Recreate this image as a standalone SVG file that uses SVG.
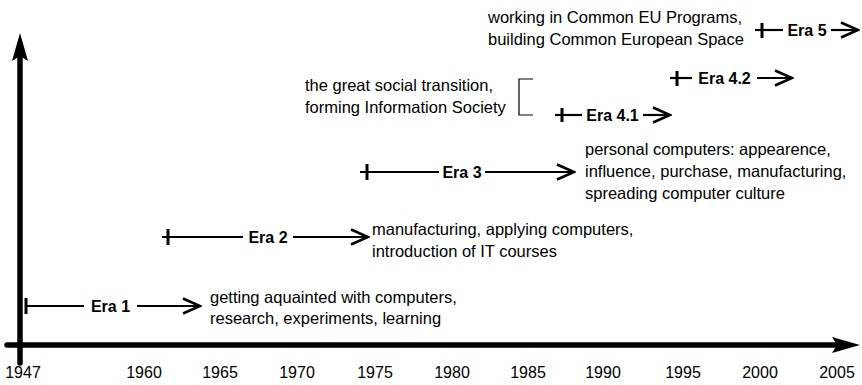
<svg xmlns="http://www.w3.org/2000/svg" width="862" height="385" viewBox="0 0 862 385">
  <style>
    text { font-family: "Liberation Sans", Arial, sans-serif; fill: #000; }
    .year { font-size: 16px; text-anchor: middle; }
    .era { font-size: 16px; font-weight: bold; text-anchor: middle; }
    .desc { font-size: 16.5px; }
    .eraline { stroke: #000; stroke-width: 2.2; fill: none; }
    .tick { stroke: #000; stroke-width: 3; }
    .axis { stroke: #000; stroke-width: 5.5; stroke-linecap: round; fill: none; }
  </style>
  <defs>
    <marker id="chev" markerUnits="userSpaceOnUse" markerWidth="22" markerHeight="20" viewBox="0 0 22 20" refX="20" refY="10" orient="auto">
      <path d="M3,2.5 L20,10 L3,17.5" fill="none" stroke="#000" stroke-width="2.6" stroke-linejoin="miter"/>
    </marker>
  </defs>
  <rect width="862" height="385" fill="#fff"/>

  <g id="axes">
    <line class="axis" x1="20" y1="58" x2="20" y2="363"/>
    <polygon points="20,33 28,61 20,56 12,61" fill="#000"/>
    <line class="axis" x1="7" y1="345" x2="836" y2="345"/>
    <polygon points="860,345 832,337 837,345 832,353" fill="#000"/>
  </g>

  <g id="years">
    <text class="year" x="23" y="378">1947</text>
    <text class="year" x="144" y="378">1960</text>
    <text class="year" x="220" y="378">1965</text>
    <text class="year" x="297" y="378">1970</text>
    <text class="year" x="375" y="378">1975</text>
    <text class="year" x="452" y="378">1980</text>
    <text class="year" x="528" y="378">1985</text>
    <text class="year" x="603" y="378">1990</text>
    <text class="year" x="683" y="378">1995</text>
    <text class="year" x="760" y="378">2000</text>
    <text class="year" x="837" y="378">2005</text>
  </g>

  <g id="connectors">
    <line class="eraline" x1="26" y1="306" x2="84" y2="306"/>
    <line class="eraline" x1="137" y1="306" x2="200" y2="306" marker-end="url(#chev)"/>
    <line class="eraline" x1="162" y1="237" x2="243" y2="237"/>
    <line class="eraline" x1="293" y1="237" x2="368" y2="237" marker-end="url(#chev)"/>
    <line class="eraline" x1="360" y1="172" x2="439" y2="172"/>
    <line class="eraline" x1="485" y1="172" x2="574" y2="172" marker-end="url(#chev)"/>
    <line class="eraline" x1="555" y1="115" x2="582" y2="115"/>
    <line class="eraline" x1="643" y1="115" x2="670" y2="115" marker-end="url(#chev)"/>
    <line class="eraline" x1="670" y1="78" x2="692" y2="78"/>
    <line class="eraline" x1="757" y1="78" x2="792" y2="78" marker-end="url(#chev)"/>
    <line class="eraline" x1="755" y1="30" x2="783" y2="30"/>
    <line class="eraline" x1="831" y1="30" x2="858" y2="30" marker-end="url(#chev)"/>
    <path d="M533,79 H519 V115 H533" fill="none" stroke="#000" stroke-width="1.2"/>
  </g>

  <g id="era1">
    <line class="tick" x1="26" y1="298" x2="26" y2="314"/>
    <text class="era" x="110.5" y="312">Era 1</text>
  </g>
  <g id="era2">
    <line class="tick" x1="168" y1="229" x2="168" y2="245"/>
    <text class="era" x="268" y="243">Era 2</text>
  </g>
  <g id="era3">
    <line class="tick" x1="367" y1="164" x2="367" y2="180"/>
    <text class="era" x="462" y="178">Era 3</text>
  </g>
  <g id="era41">
    <line class="tick" x1="562" y1="108" x2="562" y2="122"/>
    <text class="era" x="612.5" y="121">Era 4.1</text>
  </g>
  <g id="era42">
    <line class="tick" x1="677" y1="71" x2="677" y2="86"/>
    <text class="era" x="724.5" y="84">Era 4.2</text>
  </g>
  <g id="era5">
    <line class="tick" x1="762" y1="23" x2="762" y2="38"/>
    <text class="era" x="807" y="36">Era 5</text>
  </g>

  <g id="desc1">
    <text class="desc" x="210" y="303">getting aquainted with computers,</text>
    <text class="desc" x="210" y="324">research, experiments, learning</text>
  </g>
  <g id="desc2">
    <text class="desc" x="372" y="235">manufacturing, applying computers,</text>
    <text class="desc" x="372" y="257">introduction of IT courses</text>
  </g>
  <g id="desc3">
    <text class="desc" x="585" y="155">personal computers: appearence,</text>
    <text class="desc" x="585" y="177">influence, purchase, manufacturing,</text>
    <text class="desc" x="585" y="199">spreading computer culture</text>
  </g>
  <g id="desc4">
    <text class="desc" x="305" y="91">the great social transition,</text>
    <text class="desc" x="305" y="113">forming Information Society</text>
  </g>
  <g id="desc5">
    <text class="desc" x="488" y="23">working in Common EU Programs,</text>
    <text class="desc" x="488" y="45">building Common European Space</text>
  </g>
</svg>
